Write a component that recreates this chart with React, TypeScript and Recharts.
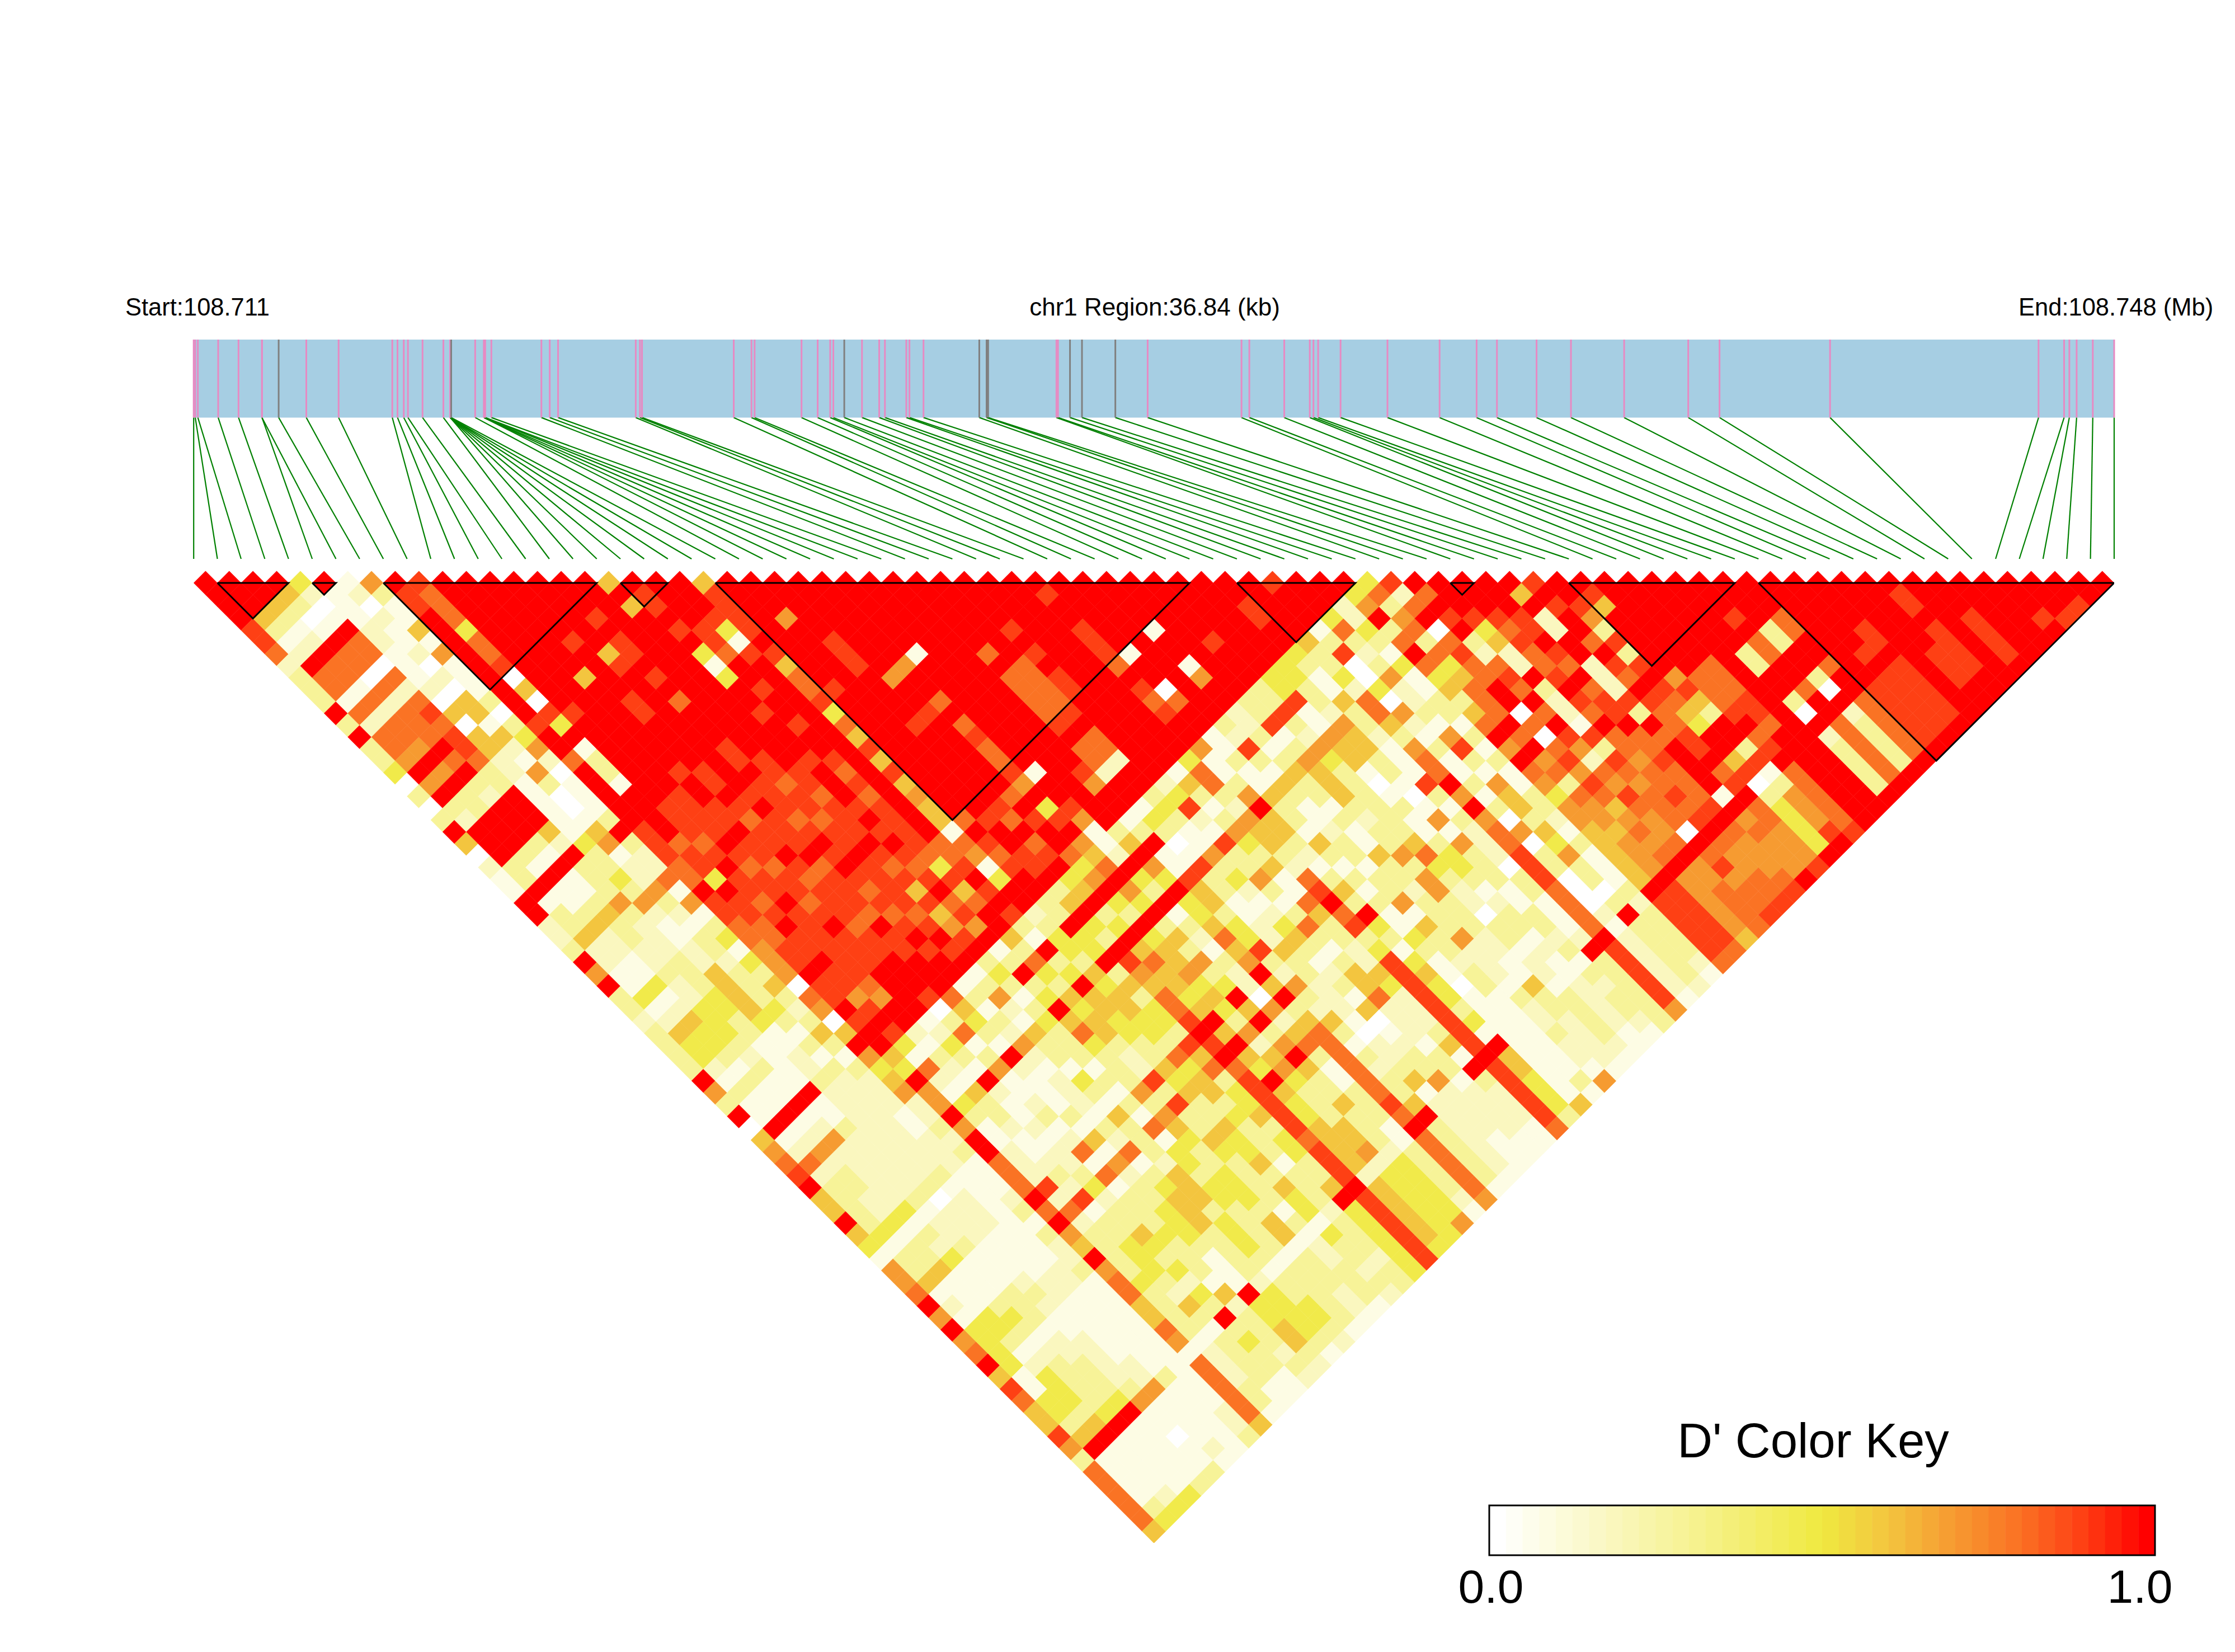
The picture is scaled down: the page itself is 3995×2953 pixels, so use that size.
import React from "react";
import { ScatterChart, Scatter, XAxis, YAxis, ReferenceLine, ReferenceArea } from "recharts";

const REGION_KB = 36.84;
const SNP_COUNT = 82;
const snpKb = [0, 0.03, 0.08, 0.47, 0.86, 1.31, 1.31, 1.63, 2.16, 2.78, 3.81, 3.91, 4.03, 4.11, 4.39, 4.79,
  4.92, 4.92, 4.92, 4.92, 4.92, 4.92, 4.94, 5.4, 5.57, 5.57, 5.57, 5.59, 5.59, 5.71, 6.67, 6.83, 6.99, 8.48, 8.56, 8.6,
  10.36, 10.7, 10.76, 11.66, 11.97, 12.21, 12.27, 12.48, 12.82, 13.15, 13.26, 13.67, 13.73, 14.0, 15.07, 15.21, 15.24,
  16.55, 16.58, 16.81, 17.04, 17.68, 18.3, 20.1, 20.25, 20.92, 21.41, 21.48, 21.57, 22.0, 22.9,
  23.9, 24.61, 25.0, 25.76, 26.42, 27.44, 28.67, 29.27, 31.39, 35.39, 35.88, 35.98, 36.12, 36.43, 36.84];
const greyKb = [1.63, 4.94, 12.48, 15.07, 15.21, 15.24, 16.81, 17.04, 17.68];
const blocks = [[1, 4], [5, 6], [8, 17], [18, 20], [22, 42], [44, 49], [53, 54], [58, 65], [66, 81]];

// Level of each digit on the D' scale
const levelValue = [0, 0.075, 0.175, 0.28, 0.475, 0.6, 0.7, 0.8, 0.9, 1];

// SNP 0 against every later SNP
const firstRow = "9999887233 3939334030 3950211992 2396933233 3396390567 8955954166 7969679587 55863777775";

// SNPs 1-7 against later SNPs up to 49
const leftRows = [
  "9 9 9 5 3 1 2 9 7 7 1 7 2 7 7 6 9 6 9 3 2 9 9 9 3 3 9 1 3 3 5 2 2 1 1 4 1 2 5 4 4 2 1 3 1 1 9 1",
  "9 9 5 3 1 2 9 7 7 1 7 2 7 7 6 9 6 9 3 3 9 9 9 3 1 9 1 1 3 5 2 2 1 1 4 1 2 5 4 4 3 1 3 1 1 9 1",
  "9 5 3 0 1 9 7 7 0 7 2 7 7 7 9 7 9 3 2 9 9 9 3 1 9 1 1 3 5 3 3 2 2 3 2 2 4 4 4 3 2 3 1 1 9 1",
  "4 2 0 1 9 7 7 0 7 2 7 8 7 8 8 7 3 3 9 9 9 5 2 9 3 3 3 6 3 2 2 2 3 3 3 4 4 3 3 1 1 1 1 9 1",
  "9 1 1 1 2 2 1 1 1 2 0 5 0 5 5 2 2 1 1 1 1 1 4 3 3 4 3 6 2 1 1 2 2 5 5 5 5 4 1 1 2 2 3 2",
  "1 2 0 2 1 1 2 0 2 0 5 5 1 5 2 1 6 3 0 0 1 5 6 1 2 2 6 3 2 1 3 3 2 3 3 3 4 3 1 3 1 3 2",
  "6 3 1 1 5 1 6 1 1 1 3 0 3 4 6 2 0 1 1 1 3 9 3 2 2 7 1 6 1 3 4 1 4 3 5 3 2 3 5 3 1 3",
];

// SNPs 1-7 against SNPs 50-81
const leftCross = [
  "2 7 2 3 3 3 3 4 1 3 3 5 1 2 1 4 4 4 4 1 1 4 4 3 5 9 1 1 1 1 3 4",
  "2 6 2 3 3 2 2 4 1 3 3 5 1 1 1 4 4 3 1 2 4 4 4 3 5 9 1 1 1 1 2 4",
  "2 6 2 2 2 2 2 4 1 3 2 4 1 1 1 3 4 3 1 2 3 3 3 3 4 9 1 1 1 1 1 4",
  "1 3 2 2 2 2 2 3 1 2 2 3 1 1 1 3 3 3 1 2 2 3 3 3 4 9 1 1 1 1 1 3",
  "2 2 2 2 2 2 2 3 0 2 2 2 1 1 1 2 3 2 1 1 2 2 2 2 3 6 1 1 0 1 1 3",
  "2 2 2 2 2 2 2 3 1 2 2 2 1 1 1 1 2 2 1 1 1 1 1 2 2 6 1 1 1 1 2 1",
  "2 2 2 1 1 2 2 2 1 1 1 1 1 1 1 1 2 2 1 1 1 1 1 1 1 3 1 1 1 1 1 1",
];

// SNPs 8-48 against later SNPs up to 49
const innerRows = [
  "988999999999 8 99 7 99999 888 77 9 88 77 666 0 7 6 0 5 9 6",
  "8777 4 77 8 0 5 0 8 4 9 1 3 3 1 9999 7 88 4 9 88 77 88 9 88 9 8 9 9",
  "9999999999 9 8 9999999 88 8 7 8 9 88 7 8 9 88 9 8 8 6 8 9 8",
  "999999999999999999 8888 9 8 7 88 9 888 888 7 6 9 9",
  "99999999 5 9999999 8 99 88 9 88 7 88 7 8 9 888 9999",
  "99999 8 9999 88 9999 88 9 8 7 88 9 8 7 888 7 88 9 9 9 8",
  "999999 5 8 9999999999 8 9 888 9 7 888 7 9 88 999",
  "999 8 9 88 9 8 9 7 999 88 9 888 7 8 9 8 9 8 7 8 7 8 9 8 9 9",
  "999999999999 999 88 7 88 7 88 9 8888 7 8 9 8 9",
  "5 9 5 9999999999999 88 7 888 9 8 7 8 5 8 5 6 8 9",
  "988989 4 1 4 99 8 999 8 999 8 9 8 9 8 7 8 9 7 8 6 9",
  "9999 8 8 7 99 8 99 8 99 8 7 8 7 8888 7 4 8 5 7 9 9",
  "999 8 4 1 8 9 99999999999999 77 8 9 8 9 8",
  "5 8 8 8 8 9 8 5 7 7 8 4 7 5 8 5 8 5 6 5 5 1 7 6 1 4 9 9",
  "999999999 8 9999999999 7 9 8 7 8 9 9",
  "999 6 999999999999999 9 8 9 9 8 8 9",
  "99999 888 9999 8 999999 8 7 9 7 8 9 ",
  "99999999 6 99 8 999999 7 9 8 9 9 7",
  "9999999 6 9 9 7 9 7 8 7 7 8 6 9 4 8 9 6",
  "999999 1 999999999 1 9 9 8 6 1",
  "999999999999999999999",
  "9999999999999999 8 6 9 9",
  "999999 7 9 7 7 7 7 8 9 7 7 2 9 9",
  "9999999 7 7 7 7 8 9 7 7 2 9 9",
  "9999 8 9 8 9 8 8 9999999",
  "9999999999999999",
  "999999999999999",
  "9 8 9 9 8 8 8 7 9 8 7 8 9 9",
  "999999 1 9 9 0 7 9 9",
  "999999999999",
  "9999 1 9 9 1 6 9 9",
  "9999999999",
  "99999 8 9 9 9",
  "99999999",
  "9999999",
  "9 9 8 8 9 9",
  "99999",
  "8 9 9 9",
  "999",
  "99",
  "9",
];

// SNPs 8-48 against SNPs 50-81
const crossRows = [
  "4 5 6 2 2 3 2 3 1 1 1 2 3 1 3 2 2 3 1 1 1 1 1 1 1 1 1 1 1 2 2 3",
  "5 4 9 6 6 9 6 9 9 7 7 7 9 7 9 6 5 9 6 7 7 5 5 7 6 1 7 7 7 7 7 5",
  "4 1 7 2 1 4 3 1 1 2 2 2 8 2 7 2 3 3 3 3 4 3 3 3 3 1 2 2 2 3 3 1",
  "2 1 3 2 1 5 3 3 2 1 1 2 3 2 8 1 3 3 4 4 4 3 2 5 3 1 3 3 3 3 1 1",
  "1 2 4 3 1 9 2 1 1 2 1 2 2 3 4 2 3 3 5 4 3 4 2 4 3 9 3 4 3 3 1 1",
  "0 3 7 1 3 6 1 1 2 3 1 2 7 1 7 1 3 3 3 4 3 3 3 1 5 2 3 3 3 2 3 2",
  "7 5 4 3 1 9 2 1 1 1 3 1 5 1 6 2 3 3 4 4 4 3 1 1 1 9 4 4 5 5 3 2",
  "1 3 1 3 2 6 2 1 2 2 2 1 3 2 7 1 3 4 5 5 5 3 3 3 3 2 4 4 4 4 3 1",
  "1 3 6 2 1 5 3 3 1 4 3 1 5 3 3 3 2 5 5 5 3 4 4 4 3 1 3 3 4 4 3 2",
  "3 4 3 1 3 4 3 3 3 1 3 1 3 1 7 1 4 4 3 4 4 3 3 3 3 1 3 3 3 3 3 1",
  "1 3 9 3 4 9 5 7 4 3 3 3 6 3 6 5 4 3 3 4 4 4 3 5 5 1 3 3 3 2 2 1",
  "5 3 7 4 3 5 4 5 5 3 2 2 8 3 8 3 3 5 4 3 3 3 3 1 3 1 2 2 3 3 3 1",
  "3 1 9 3 4 9 5 5 4 4 3 3 5 4 5 3 3 5 4 4 5 3 5 4 4 1 4 3 3 2 3 2",
  "2 3 4 4 3 5 4 5 5 4 4 3 7 4 5 5 3 4 3 3 3 1 3 3 3 2 3 3 3 2 3 3",
  "3 3 9 4 4 9 3 5 3 4 4 3 8 5 7 3 4 4 5 3 4 4 3 3 5 9 4 4 4 4 4 4",
  "3 5 9 4 3 9 8 6 5 7 7 8 9 8 9 7 8 8 8 8 8 7 8 8 8 9 8 8 8 8 8 8",
  "4 5 9 3 4 9 5 7 5 5 4 5 9 5 9 5 4 9 5 4 4 5 5 5 5 2 5 5 5 5 5 4",
  "4 6 9 4 3 9 4 5 5 6 4 5 4 3 6 2 5 6 4 3 3 3 5 5 6 2 4 4 4 4 4 4",
  "5 7 9 6 4 9 3 5 3 6 3 4 9 5 9 3 6 9 5 3 3 5 3 3 3 2 4 4 4 4 4 6",
  "1 2 9 4 3 9 1 3 2 1 3 2 2 0 6 2 5 7 3 1 1 3 3 3 1 1 3 3 3 3 2 1",
  "3 5 9 6 4 9 4 4 5 7 5 6 9 5 9 3 5 7 7 7 7 7 7 8 7 9 7 7 7 7 7 6",
  "1 3 9 1 1 8 5 5 3 4 4 8 3 2 6 3 2 5 3 1 3 2 3 3 5 9 3 3 3 3 3 1",
  "1 4 3 0 1 8 3 3 1 1 2 2 5 3 3 2 2 2 1 0 2 2 3 5 1 2 2 2 2 2 2 1",
  "3 4 3 1 1 6 3 4 2 1 2 4 5 3 1 2 3 1 5 0 1 2 3 3 6 2 2 2 2 1 1 1",
  "2 4 8 2 1 8 3 3 6 3 1 3 7 3 1 3 5 5 7 2 2 2 1 3 3 1 2 2 2 2 1 1",
  "1 5 3 1 3 6 4 3 5 1 1 7 5 3 3 2 2 5 4 2 2 2 3 5 1 9 3 2 2 2 1 1",
  "4 7 7 3 2 6 5 5 3 2 7 8 9 7 8 3 4 8 8 8 8 8 8 8 8 9 8 8 8 8 8 7",
  "6 1 1 3 6 9 5 5 3 2 1 3 5 3 9 4 3 1 4 5 4 4 3 4 1 9 5 5 4 4 4 3",
  "1 1 3 1 1 5 3 3 1 5 3 1 3 1 3 1 1 4 3 1 1 0 1 1 1 1 1 1 1 1 1 5",
  "3 2 8 3 1 5 3 1 1 2 3 3 1 3 3 6 1 5 3 3 2 3 3 1 1 1 1 1 1 1 3 1",
  "2 2 3 1 3 5 3 3 1 3 1 1 5 3 3 2 3 3 3 6 2 2 2 1 3 2 2 3 2 2 1 6",
  "3 3 8 1 3 6 5 5 5 3 2 3 3 6 3 6 6 3 3 3 2 2 1 1 5 3 3 2 2 2 2 1",
  "3 3 8 3 2 6 4 3 3 3 3 3 3 5 7 4 3 2 2 0 3 3 1 2 2 1 3 3 3 3 2 1",
  "4 4 8 1 1 6 5 5 1 0 1 3 1 1 3 4 4 3 1 2 3 3 1 2 1 1 2 2 2 2 1 1",
  "4 4 3 3 2 6 5 5 3 3 1 0 1 6 1 6 3 3 3 1 1 3 3 2 3 1 3 2 3 3 2 1",
  "4 3 1 1 5 3 3 2 1 1 1 8 3 1 3 2 2 2 0 3 3 1 1 1 2 9 3 3 3 3 3 3",
  "5 3 3 4 2 7 7 5 3 6 7 7 9 6 9 6 7 7 8 8 8 7 7 7 7 9 8 8 8 8 8 6",
  "1 3 8 0 0 4 0 6 2 1 3 1 1 3 1 3 0 6 0 3 3 0 0 0 2 1 2 2 2 2 2 1",
  "4 7 3 2 3 6 2 2 3 1 6 8 3 1 6 5 5 3 5 4 6 3 3 0 3 9 3 3 3 3 3 2",
  "2 2 4 3 1 4 1 1 3 3 1 3 1 3 1 1 3 3 2 1 3 1 1 1 3 2 3 3 3 3 2 1",
  "4 6 9 3 7 9 7 4 5 3 5 7 9 6 9 7 6 4 6 6 5 5 5 5 5 9 8 8 8 8 8 7",
];

// SNPs 49-80 against later SNPs
const rightRows = [
  "4 7 3 6 7 3 7 4 5 7 7 7 9 7 9 6 7 3 7 6 6 5 6 6 6 9 8 8 8 8 8 7",
  "8279078779907078687567679666665",
  "979893278797986276876679667777",
  "99984522932218387677709786778",
  "9998787789879776778789766778",
  "999889879788977877789766678",
  "95922992228397999919676669",
  "8989979879877889789776668",
  "998638389875499580344449",
  "98599999685399381366689",
  "9999999977789789777778",
  "999999977788799999999",
  "99999999999999999999",
  "9999993399309233339",
  "999897799799777779",
  "99993399309233339",
  "9997799799777779",
  "999999999888889",
  "99999989888889",
  "9999889888889",
  "999999999999",
  "99999988899",
  "9889888899",
  "999999999",
  "99988889",
  "9999999",
  "999999",
  "99989",
  "9998",
  "998",
  "99",
  "9",
];

const colorStops: [number, number[]][] = [
  [0, [255, 255, 255]], [0.3, [246, 242, 145]], [0.5, [240, 233, 64]], [0.6, [243, 197, 63]],
  [0.7, [246, 155, 49]], [0.8, [250, 115, 36]], [0.9, [254, 64, 20]], [1, [255, 0, 0]],
];

function colorOf(t: number) {
  for (let k = 1; k < colorStops.length; k++) {
    const [t1, c1] = colorStops[k];
    const [t0, c0] = colorStops[k - 1];
    if (t <= t1) {
      const f = (t - t0) / (t1 - t0);
      const c = c0.map((v, n) => Math.round(v + (c1[n] - v) * f));
      return `rgb(${c[0]},${c[1]},${c[2]})`;
    }
  }
  return "rgb(255,0,0)";
}

const allRows: string[] = [
  firstRow,
  ...leftRows.map((r, n) => r + leftCross[n]),
  ...innerRows.map((r, n) => r + crossRows[n]),
  ...rightRows,
];

const cells: { x: number; y: number; d: number }[] = [];
allRows.forEach((raw, i) => {
  const need = SNP_COUNT - 1 - i;
  const row = raw.replace(/\s/g, "").padEnd(need, "1").slice(0, need);
  for (let n = 0; n < need; n++) {
    const j = i + 1 + n;
    cells.push({ x: (i + j) / 2, y: (j - i - 1) / 2, d: levelValue[Number(row[n])] });
  }
});

const blockOutlines = blocks.map(([a, b]) => [
  { x: a, y: 0 },
  { x: b, y: 0 },
  { x: (a + b) / 2, y: (b - a) / 2 },
  { x: a, y: 0 },
]);

const W = 3995;
const H = 2953;
const LEFT = 346.2;
const RIGHT = 3779;
const UNIT = (RIGHT - LEFT) / (SNP_COUNT - 1);
const PLOT_TOP = 500;
const PLOT_BOTTOM = 2758;
const Y_TOP = -(1042 - PLOT_TOP) / UNIT;
const Y_BOTTOM = (PLOT_BOTTOM - 1042) / UNIT;
const BAR_TOP = (607 - 1042) / UNIT;
const BAR_BOTTOM = (746.4 - 1042) / UNIT;
const LINE_END = (999 - 1042) / UNIT;
const toX = (kb: number) => (kb / REGION_KB) * (SNP_COUNT - 1);

const Diamond = (props: any) => {
  const { cx, cy, payload } = props;
  const h = UNIT / 2;
  const fill = colorOf(payload.d);
  return (
    <polygon
      points={`${cx - h},${cy} ${cx},${cy - h} ${cx + h},${cy} ${cx},${cy + h}`}
      fill={fill}
      stroke={fill}
      strokeWidth={0.5}
    />
  );
};

const NoDot = () => null;

const KEY_LEFT = 2662;
const KEY_RIGHT = 3852;
const KEY_TOP = 2691;
const KEY_BOTTOM = 2780;
const KEY_BINS = 40;
const sans = "'Liberation Sans', Arial, sans-serif";

export default function App() {
  const binW = (KEY_RIGHT - KEY_LEFT) / KEY_BINS;
  return (
    <div style={{ position: "absolute", left: 0, top: 0, width: W, height: H, background: "#fff" }}>
      <ScatterChart
        width={W}
        height={H}
        margin={{ left: LEFT, right: W - RIGHT, top: PLOT_TOP, bottom: H - PLOT_BOTTOM }}
      >
        <XAxis type="number" dataKey="x" domain={[0, SNP_COUNT - 1]} hide allowDataOverflow />
        <YAxis type="number" dataKey="y" domain={[Y_TOP, Y_BOTTOM]} reversed hide allowDataOverflow />
        <Scatter data={cells} isAnimationActive={false} shape={Diamond} />
        {blockOutlines.map((pts, n) => (
          <Scatter
            key={`b${n}`}
            data={pts}
            isAnimationActive={false}
            shape={NoDot}
            line={{ stroke: "#000", strokeWidth: 3 }}
            lineType="joint"
          />
        ))}
        <ReferenceArea
          x1={0}
          x2={SNP_COUNT - 1}
          y1={BAR_TOP}
          y2={BAR_BOTTOM}
          fill="#A6CEE3"
          fillOpacity={1}
          stroke="none"
        />
        {snpKb.map((kb, i) => (
          <ReferenceLine
            key={`g${i}`}
            segment={[{ x: toX(kb), y: BAR_BOTTOM }, { x: i, y: LINE_END }]}
            stroke="#008000"
            strokeWidth={2.2}
          />
        ))}
        {snpKb.map((kb, i) => (
          <ReferenceLine
            key={`s${i}`}
            segment={[{ x: toX(kb), y: BAR_TOP }, { x: toX(kb), y: BAR_BOTTOM }]}
            stroke={greyKb.includes(kb) ? "#808080" : "#E78AC3"}
            strokeWidth={3}
          />
        ))}
        <text x={224} y={564} fontFamily={sans} fontSize={43.5} fill="#000">Start:108.711</text>
        <text x={2064} y={564} fontFamily={sans} fontSize={44} fill="#000" textAnchor="middle">chr1 Region:36.84 (kb)</text>
        <text x={3608} y={564} fontFamily={sans} fontSize={43.5} fill="#000">End:108.748 (Mb)</text>
        <text x={3241} y={2605} fontFamily={sans} fontSize={87} fill="#000" textAnchor="middle">D' Color Key</text>
        {Array.from({ length: KEY_BINS }, (_, k) => (
          <rect
            key={`k${k}`}
            x={KEY_LEFT + k * binW}
            y={KEY_TOP}
            width={binW + 0.5}
            height={KEY_BOTTOM - KEY_TOP}
            fill={colorOf(k / (KEY_BINS - 1))}
          />
        ))}
        <rect x={KEY_LEFT} y={KEY_TOP} width={KEY_RIGHT - KEY_LEFT} height={KEY_BOTTOM - KEY_TOP} fill="none" stroke="#000" strokeWidth={3} />
        <text x={2665} y={2865} fontFamily={sans} fontSize={84} fill="#000" textAnchor="middle">0.0</text>
        <text x={3825} y={2865} fontFamily={sans} fontSize={84} fill="#000" textAnchor="middle">1.0</text>
      </ScatterChart>
    </div>
  );
}
